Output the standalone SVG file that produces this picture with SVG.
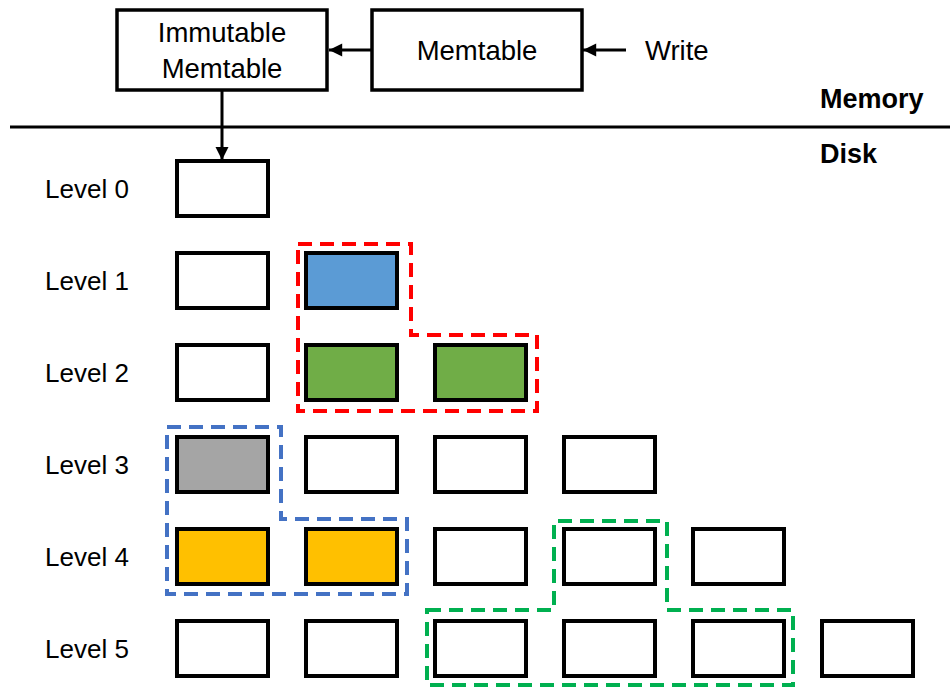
<svg xmlns="http://www.w3.org/2000/svg" width="950" height="687" viewBox="0 0 950 687">
<defs>
<style>
.t{font-family:"Liberation Sans",Arial,sans-serif;font-size:26px;fill:#000}
.tt{font-family:"Liberation Sans",Arial,sans-serif;font-size:27.5px;fill:#000}
.b{font-family:"Liberation Sans",Arial,sans-serif;font-size:27px;font-weight:bold;fill:#000}
.box{stroke:#000;stroke-width:3.5;fill:#fff}
.sst{stroke:#000;stroke-width:4;fill:#fff}
.conn{stroke:#000;stroke-width:3;fill:none}
.grp{fill:none;stroke-width:4;stroke-dasharray:14 8}
</style>
<marker id="ah" viewBox="0 0 10 10" refX="10" refY="5" markerWidth="4.6" markerHeight="4.4" markerUnits="strokeWidth" orient="auto">
<path d="M0,0 L10,5 L0,10 Z" fill="#000"/>
</marker>
</defs>
<rect width="950" height="687" fill="#fff"/>
<g id="immutable">
<rect class="box" x="117" y="10" width="210" height="80"/>
<text class="tt" x="222" y="42" text-anchor="middle">Immutable</text>
<text class="tt" x="222" y="78" text-anchor="middle">Memtable</text>
</g>
<g id="memtable">
<rect class="box" x="372" y="10" width="210" height="80"/>
<text class="tt" x="477" y="60" text-anchor="middle">Memtable</text>
</g>
<g id="write"><text class="tt" x="645" y="60">Write</text></g>
<g id="labels">
<text class="b" x="820" y="108">Memory</text>
<text class="b" x="820" y="163">Disk</text>
<line x1="10" y1="127" x2="950" y2="127" stroke="#000" stroke-width="3"/>
<text class="t" x="45" y="198">Level 0</text>
<text class="t" x="45" y="290">Level 1</text>
<text class="t" x="45" y="382">Level 2</text>
<text class="t" x="45" y="474">Level 3</text>
<text class="t" x="45" y="566">Level 4</text>
<text class="t" x="45" y="658">Level 5</text>
</g>
<g id="connectors">
<line class="conn" x1="372" y1="50" x2="329" y2="50" marker-end="url(#ah)"/>
<line class="conn" x1="626" y1="50" x2="583" y2="50" marker-end="url(#ah)"/>
<line class="conn" x1="222" y1="90" x2="222" y2="160" marker-end="url(#ah)"/>
</g>
<g id="level0"><rect class="sst" x="177" y="161" width="91" height="55"/></g>
<g id="level1">
<rect class="sst" x="177" y="253" width="91" height="55"/>
<rect class="sst" x="306" y="253" width="91" height="55" style="fill:#5B9BD5"/>
</g>
<g id="level2">
<rect class="sst" x="177" y="345" width="91" height="55"/>
<rect class="sst" x="306" y="345" width="91" height="55" style="fill:#70AD47"/>
<rect class="sst" x="435" y="345" width="91" height="55" style="fill:#70AD47"/>
</g>
<g id="level3">
<rect class="sst" x="177" y="437" width="91" height="55" style="fill:#A5A5A5"/>
<rect class="sst" x="306" y="437" width="91" height="55"/>
<rect class="sst" x="435" y="437" width="91" height="55"/>
<rect class="sst" x="564" y="437" width="91" height="55"/>
</g>
<g id="level4">
<rect class="sst" x="177" y="529" width="91" height="55" style="fill:#FFC000"/>
<rect class="sst" x="306" y="529" width="91" height="55" style="fill:#FFC000"/>
<rect class="sst" x="435" y="529" width="91" height="55"/>
<rect class="sst" x="564" y="529" width="91" height="55"/>
<rect class="sst" x="693" y="529" width="91" height="55"/>
</g>
<g id="level5">
<rect class="sst" x="177" y="621" width="91" height="55"/>
<rect class="sst" x="306" y="621" width="91" height="55"/>
<rect class="sst" x="435" y="621" width="91" height="55"/>
<rect class="sst" x="564" y="621" width="91" height="55"/>
<rect class="sst" x="693" y="621" width="91" height="55"/>
<rect class="sst" x="822" y="621" width="91" height="55"/>
</g>
<g id="groups">
<path class="grp" stroke="#FF0000" d="M298,244 H411 V335 H537 V411 H298 Z"/>
<path class="grp" stroke="#4472C4" d="M167,427 H281 V519 H407 V594 H167 Z"/>
<path class="grp" stroke="#00B050" d="M427,610 H554 V521 H667 V610 H793 V685 H427 Z"/>
</g>
</svg>
